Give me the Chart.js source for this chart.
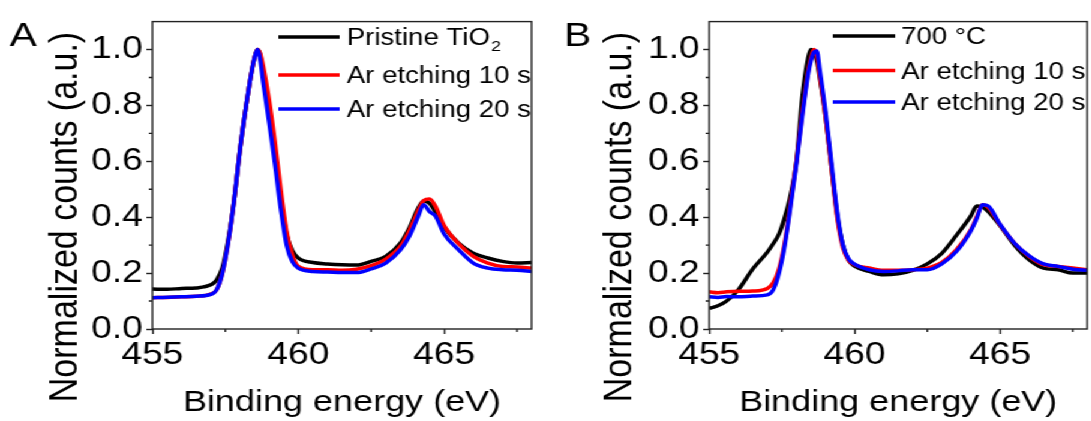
<!DOCTYPE html>
<html>
<head>
<meta charset="utf-8">
<script src="https://cdn.jsdelivr.net/npm/chart.js@4.4.1/dist/chart.umd.min.js"></script>
<style>
  html, body { margin: 0; padding: 0; background: #fff; overflow: hidden; }
  /* the source figure is stretched sideways, so the whole drawing is too */
  #stretch { position: absolute; left: 0; top: 0; width: 909px; height: 421px; transform: scaleX(1.2); transform-origin: 0 0; }
  #chartA { position: absolute; left: 0; top: 0; }
  #chartB { position: absolute; left: 454px; top: 0; }
</style>
</head>
<body>
<div id="stretch">
  <canvas id="chartA" width="454" height="421"></canvas>
  <canvas id="chartB" width="455" height="421"></canvas>
</div>
<script>
// ---- data ----
const energyA = [455, 455.5, 456, 456.5, 457, 457.2, 457.4, 457.6, 457.8, 458, 458.2, 458.4, 458.5, 458.6, 458.7, 458.8, 459, 459.2, 459.4, 459.6, 459.8, 460, 460.5, 461, 461.5, 462, 462.5, 463, 463.5, 463.8, 464.1, 464.3, 464.5, 464.7, 465, 465.5, 466, 466.5, 467, 467.5, 468];
const pristineA = [0.143, 0.142, 0.145, 0.147, 0.158, 0.175, 0.22, 0.32, 0.46, 0.64, 0.79, 0.92, 0.97, 1.0, 0.98, 0.91, 0.78, 0.63, 0.47, 0.34, 0.28, 0.254, 0.238, 0.233, 0.23, 0.229, 0.242, 0.26, 0.307, 0.36, 0.43, 0.458, 0.45, 0.42, 0.365, 0.307, 0.271, 0.254, 0.242, 0.236, 0.238];
const etch10A = [0.112, 0.113, 0.115, 0.117, 0.125, 0.14, 0.2, 0.31, 0.46, 0.64, 0.79, 0.92, 0.97, 1.0, 0.985, 0.94, 0.82, 0.67, 0.5, 0.35, 0.265, 0.224, 0.212, 0.212, 0.21, 0.214, 0.227, 0.25, 0.295, 0.35, 0.42, 0.46, 0.465, 0.44, 0.37, 0.305, 0.26, 0.236, 0.224, 0.222, 0.218];
const etch20A = [0.112, 0.114, 0.115, 0.117, 0.124, 0.14, 0.2, 0.31, 0.46, 0.64, 0.79, 0.92, 0.97, 1.0, 0.96, 0.88, 0.74, 0.59, 0.43, 0.3, 0.24, 0.218, 0.206, 0.204, 0.202, 0.202, 0.215, 0.236, 0.283, 0.33, 0.4, 0.445, 0.42, 0.405, 0.34, 0.283, 0.236, 0.218, 0.212, 0.21, 0.206];

const energyB = [455, 455.3, 455.6, 456, 456.5, 457, 457.2, 457.4, 457.6, 457.8, 458, 458.2, 458.4, 458.5, 458.6, 458.7, 458.8, 459, 459.2, 459.4, 459.6, 459.8, 460, 460.5, 461, 461.5, 462, 462.5, 463, 463.5, 464, 464.2, 464.4, 464.6, 465, 465.5, 466, 466.5, 467, 467.5, 468];
const anneal700B = [0.074, 0.083, 0.1, 0.14, 0.215, 0.275, 0.305, 0.34, 0.4, 0.48, 0.6, 0.83, 0.97, 1.0, 0.99, 0.96, 0.9, 0.76, 0.58, 0.41, 0.3, 0.245, 0.225, 0.206, 0.194, 0.198, 0.21, 0.233, 0.271, 0.335, 0.405, 0.44, 0.437, 0.42, 0.37, 0.3, 0.248, 0.218, 0.212, 0.2, 0.2];
const etch10B = [0.133, 0.13, 0.133, 0.135, 0.136, 0.145, 0.165, 0.215, 0.31, 0.45, 0.6, 0.77, 0.92, 0.97, 1.0, 0.98, 0.91, 0.76, 0.58, 0.4, 0.29, 0.245, 0.23, 0.218, 0.21, 0.21, 0.212, 0.218, 0.238, 0.283, 0.355, 0.4, 0.445, 0.435, 0.373, 0.307, 0.26, 0.23, 0.224, 0.218, 0.212];
const etch20B = [0.115, 0.113, 0.116, 0.115, 0.118, 0.122, 0.14, 0.2, 0.3, 0.44, 0.59, 0.76, 0.91, 0.96, 0.99, 0.995, 0.93, 0.78, 0.6, 0.42, 0.3, 0.25, 0.232, 0.212, 0.206, 0.208, 0.212, 0.212, 0.233, 0.277, 0.352, 0.395, 0.445, 0.44, 0.375, 0.307, 0.262, 0.233, 0.224, 0.214, 0.21];

const xTicks = [455, 460, 465];
const xMinor = [457.5, 462.5, 467.5];
const yTicks = [0, 0.2, 0.4, 0.6, 0.8, 1.0];
const yMinor = [0.1, 0.3, 0.5, 0.7, 0.9];

const labelsA = ['Pristine TiO', 'Ar etching 10 s', 'Ar etching 20 s'];
const labelsB = ['700 °C', 'Ar etching 10 s', 'Ar etching 20 s'];
const xTitle = 'Binding energy (eV)';
const yTitle = 'Normalized counts (a.u.)';

const colors = ['#000000', '#ff0000', '#0000ff'];
const FONT = 'Arial, "Liberation Sans", Helvetica, sans-serif';

Chart.defaults.font.family = FONT;
Chart.defaults.color = '#000';

// frame, minor ticks, titles, panel letter and the in-plot legend
const decorPlugin = {
  id: 'decor',
  afterDraw(chart, args, opts) {
    const { ctx, chartArea: a, scales: { x, y } } = chart;
    ctx.save();
    ctx.strokeStyle = '#222';
    ctx.lineWidth = 1.4;
    ctx.strokeRect(a.left, a.top, a.right - a.left, a.bottom - a.top);

    ctx.beginPath();
    xMinor.forEach(v => {
      const px = x.getPixelForValue(v);
      ctx.moveTo(px, a.bottom);
      ctx.lineTo(px, a.bottom + 3);
    });
    yMinor.forEach(v => {
      const py = y.getPixelForValue(v);
      ctx.moveTo(a.left, py);
      ctx.lineTo(a.left - 3, py);
    });
    ctx.stroke();

    ctx.fillStyle = '#000';
    ctx.textAlign = 'left';
    ctx.textBaseline = 'alphabetic';
    ctx.font = `34px ${FONT}`;
    ctx.fillText(opts.letter, opts.letterX, 46);

    ctx.save();
    ctx.translate(opts.yTitleX, 217);
    ctx.rotate(-Math.PI / 2);
    ctx.font = `34px ${FONT}`;
    ctx.textAlign = 'center';
    ctx.textBaseline = 'middle';
    ctx.fillText(yTitle, 0, 0);
    ctx.restore();

    ctx.font = `30px ${FONT}`;
    ctx.textAlign = 'center';
    ctx.fillText(xTitle, (a.left + a.right) / 2, 411);

    // legend
    ctx.textAlign = 'left';
    chart.data.datasets.forEach((ds, i) => {
      const ry = opts.rows[i];
      ctx.strokeStyle = ds.borderColor;
      ctx.lineWidth = 3.5;
      ctx.beginPath();
      ctx.moveTo(opts.lineX0, ry);
      ctx.lineTo(opts.lineX1, ry);
      ctx.stroke();
      ctx.fillStyle = '#000';
      ctx.font = `23px ${FONT}`;
      ctx.fillText(ds.label, opts.textX, ry + 8);
      if (opts.sub && opts.sub[i]) {
        const w = ctx.measureText(ds.label).width;
        ctx.font = `15px ${FONT}`;
        ctx.fillText(opts.sub[i], opts.textX + w + 1, ry + 14);
      }
    });
    ctx.restore();
  }
};

function makeChart(id, energy, series, labels, yWidth, padRight, decor) {
  const ctx = document.getElementById(id).getContext('2d');
  return new Chart(ctx, {
    type: 'line',
    data: {
      datasets: series.map((vals, i) => ({
        label: labels[i],
        data: energy.map((e, k) => ({ x: e, y: vals[k] })),
        borderColor: colors[i],
        borderWidth: 3.5,
        pointRadius: 0,
        fill: false,
        cubicInterpolationMode: 'monotone',
        order: 3 - i
      }))
    },
    options: {
      responsive: false,
      animation: false,
      devicePixelRatio: 1,
      layout: { padding: { top: 21, right: padRight, left: 0, bottom: 0 } },
      plugins: {
        legend: { display: false },
        tooltip: { enabled: false },
        decor: decor
      },
      scales: {
        x: {
          type: 'linear',
          min: 455,
          max: 468,
          afterBuildTicks: s => { s.ticks = xTicks.map(v => ({ value: v })); },
          afterFit: s => { s.height = 92; },
          ticks: { font: { size: 31 }, color: '#000', padding: 3, maxRotation: 0, autoSkip: false },
          grid: { drawOnChartArea: false, tickLength: 5, tickColor: '#222', tickWidth: 1.4 },
          border: { display: false }
        },
        y: {
          min: 0,
          max: 1.1,
          afterBuildTicks: s => { s.ticks = yTicks.map(v => ({ value: v })); },
          afterFit: s => { s.width = yWidth; },
          ticks: { font: { size: 31 }, color: '#000', padding: 3, callback: v => v.toFixed(1) },
          grid: { drawOnChartArea: false, tickLength: 5, tickColor: '#222', tickWidth: 1.4 },
          border: { display: false }
        }
      }
    },
    plugins: [decorPlugin]
  });
}

makeChart('chartA', energyA, [pristineA, etch10A, etch20A], labelsA, 127, 11, {
  letter: 'A', letterX: 8, yTitleX: 55,
  rows: [37, 75, 109], lineX0: 232, lineX1: 283, textX: 289, sub: ['2', '', '']
});

makeChart('chartB', energyB, [anneal700B, etch10B, etch20B], labelsB, 137, 3, {
  letter: 'B', letterX: 16, yTitleX: 63,
  rows: [36, 70.5, 102], lineX0: 240, lineX1: 292, textX: 297
});
</script>
</body>
</html>
